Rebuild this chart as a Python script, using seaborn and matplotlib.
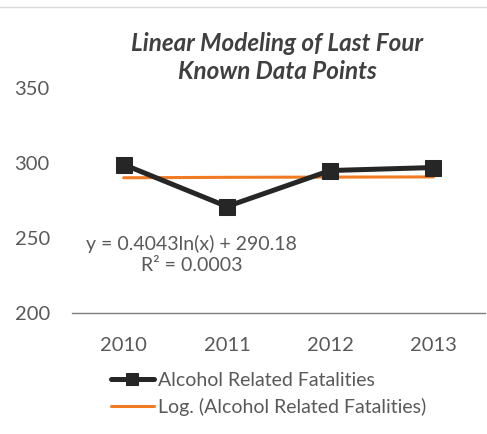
import numpy as np
import pandas as pd
import matplotlib
matplotlib.use("Agg")
import matplotlib.pyplot as plt
import seaborn as sns

# Alcohol related fatalities, last four known years
years = [2010, 2011, 2012, 2013]
fatalities = [299, 271, 295, 297]

# Logarithmic trendline coefficients: y = a*ln(x) + b, x = 1..n
trend_a = 0.4043
trend_b = 290.18
trend_r2 = 0.0003

y_ticks = [200, 250, 300, 350]

sns.set_theme(style="white")
plt.rcParams["font.family"] = ["Lato", "DejaVu Sans"]

df = pd.DataFrame({"Year": years, "Fatalities": fatalities})
x_idx = np.arange(1, len(years) + 1)
trend_df = pd.DataFrame({"Year": years,
                         "Trend": trend_a * np.log(x_idx) + trend_b})

fig = plt.figure(figsize=(4.87, 4.34), dpi=100)
ax = fig.add_axes([0.148, 0.279, 0.848, 0.518])

text_col = "#595959"

sns.lineplot(data=df, x="Year", y="Fatalities", ax=ax, color="#262626",
             linewidth=3.6, marker="s", markersize=11, markeredgecolor="#262626",
             label="Alcohol Related Fatalities", zorder=3)
sns.lineplot(data=trend_df, x="Year", y="Trend", ax=ax, color="#F07B22",
             linewidth=2.2, label="Log. (Alcohol Related Fatalities)", zorder=2)

ax.set_xlim(2009.5, 2013.5)
ax.set_ylim(200, 350)
ax.set_xticks(years)
ax.set_xticklabels([str(y) for y in years])
ax.set_yticks(y_ticks)
ax.set_xlabel("")
ax.set_ylabel("")
ax.tick_params(axis="both", length=0, labelsize=14.5, colors=text_col)
ax.tick_params(axis="x", pad=17)
ax.tick_params(axis="y", pad=16)

for side in ["top", "right", "left"]:
    ax.spines[side].set_visible(False)
ax.spines["bottom"].set_color("#7f7f7f")
ax.spines["bottom"].set_linewidth(1.0)

ax.text(2010.66, 239,
        f"y = {trend_a}ln(x) + {trend_b}\nR\u00b2 = {trend_r2:.4f}",
        ha="center", va="center", multialignment="center",
        fontsize=14, color=text_col, linespacing=1.3)

fig.text(0.569, 0.868, "Linear Modeling of Last Four\nKnown Data Points",
         ha="center", va="center", fontsize=17.5, fontweight="bold",
         fontstyle="italic", color="#404040", linespacing=1.25)

handles, labels = ax.get_legend_handles_labels()
ax.legend_.remove()
fig.legend(handles, labels, loc="center left", bbox_to_anchor=(0.192, 0.093),
           frameon=False, fontsize=14, labelcolor=text_col,
           handlelength=2.2, handletextpad=0.2, labelspacing=0.45,
           markerscale=0.75)

# faint chart-area border along the top
fig.add_artist(plt.Line2D([0.0, 1.0], [0.985, 0.985], color="#d9d9d9",
                          linewidth=1.0, transform=fig.transFigure))

fig.savefig("out.png", dpi=100, facecolor="white")
